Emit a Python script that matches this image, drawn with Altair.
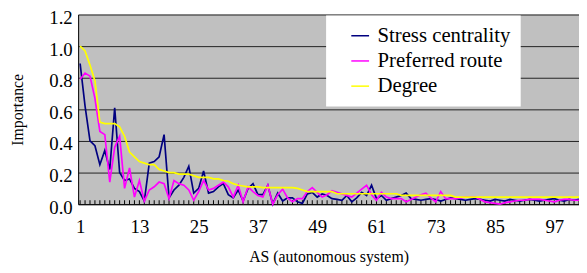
import altair as alt
import pandas as pd

AS = list(range(1, 103))

stress = [0.89, 0.62, 0.40, 0.37, 0.25, 0.34, 0.22, 0.61, 0.20, 0.15,
          0.16, 0.10, 0.08, 0.02, 0.26, 0.27, 0.30, 0.44, 0.04, 0.09,
          0.12, 0.17, 0.24, 0.07, 0.10, 0.21, 0.07, 0.08, 0.11, 0.13,
          0.06, 0.04, 0.09, 0.02, 0.10, 0.13, 0.06, 0.06, 0.12, 0.00,
          0.07, 0.02, 0.04, 0.04, 0.015, 0.005, 0.065, 0.075, 0.045, 0.065,
          0.055, 0.035, 0.03, 0.025, 0.055, 0.015, 0.04, 0.075, 0.055, 0.12,
          0.035, 0.055, 0.025, 0.035, 0.045, 0.055, 0.07, 0.035, 0.03, 0.025,
          0.03, 0.035, 0.03, 0.02, 0.03, 0.04, 0.035, 0.03, 0.025, 0.03,
          0.035, 0.03, 0.025, 0.02, 0.03, 0.025, 0.02, 0.03, 0.025, 0.02,
          0.025, 0.03, 0.025, 0.02, 0.025, 0.03, 0.035, 0.025, 0.02, 0.03,
          0.025, 0.03]

preferred = [0.79, 0.83, 0.81, 0.67, 0.46, 0.44, 0.14, 0.36, 0.43, 0.10,
             0.23, 0.045, 0.15, 0.02, 0.09, 0.11, 0.14, 0.13, 0.035, 0.15,
             0.13, 0.12, 0.09, 0.025, 0.08, 0.15, 0.09, 0.10, 0.12, 0.14,
             0.11, 0.045, 0.12, 0.015, 0.11, 0.08, 0.055, 0.045, 0.12, 0.00,
             0.06, 0.095, 0.04, 0.015, 0.035, 0.035, 0.08, 0.105, 0.075, 0.045,
             0.06, 0.085, 0.075, 0.065, 0.055, 0.045, 0.07, 0.095, 0.12, 0.06,
             0.025, 0.075, 0.045, 0.035, 0.035, 0.035, 0.015, 0.03, 0.045, 0.06,
             0.07, 0.04, 0.015, 0.08, 0.035, 0.035, 0.035, 0.04, 0.045, 0.045,
             0.045, 0.03, 0.015, 0.01, 0.005, 0.0, 0.01, 0.015, 0.02, 0.025,
             0.025, 0.03, 0.03, 0.03, 0.025, 0.02, 0.015, 0.025, 0.03, 0.03,
             0.025, 0.025]

degree = ([1.00, 0.97, 0.88, 0.78, 0.52, 0.51, 0.51, 0.51, 0.49, 0.43,
           0.33, 0.30, 0.27, 0.26, 0.25, 0.25, 0.22, 0.21, 0.20, 0.20,
           0.19, 0.19, 0.19, 0.18, 0.17, 0.17, 0.17, 0.16, 0.16, 0.15,
           0.145, 0.13, 0.12, 0.115, 0.11, 0.11, 0.11, 0.105, 0.105, 0.105,
           0.105, 0.105, 0.105, 0.105, 0.10, 0.09, 0.08]
          + [0.08] * 5 + [0.066] * 13 + [0.056] * 11 + [0.045] * 26)

series_names = ["Stress centrality", "Preferred route", "Degree"]
series_colors = ["#000080", "#FF00FF", "#FFFF00"]
y_ticks = [0.0, 0.2, 0.4, 0.6, 0.8, 1.0, 1.2]
x_labels = [1, 13, 25, 37, 49, 61, 73, 85, 97]

rows = []
for name, vals in zip(series_names, [stress, preferred, degree]):
    for a, v in zip(AS, vals):
        rows.append({"AS": a, "Importance": v, "Series": name})
df = pd.DataFrame(rows)
ticks_df = pd.DataFrame({"AS": AS})

FONT = "Times New Roman, Liberation Serif, DejaVu Serif, serif"

x_enc = alt.X(
    "AS:Q",
    scale=alt.Scale(domain=[0.6, 102], nice=False, zero=False),
    axis=alt.Axis(values=x_labels, title="AS (autonomous system)", ticks=False,
                  tickSize=0, grid=False, labelPadding=14, titlePadding=12,
                  labelFontSize=19, titleFontSize=16),
)
y_scale = alt.Scale(domain=[0, 1.2], nice=False)
y_axis = alt.Axis(values=y_ticks, format=".1f", title="Importance", ticks=False,
                  tickSize=0, grid=True, labelPadding=6, titlePadding=24,
                  labelFontSize=19, titleFontSize=16, labelOffset=3)

color_enc = alt.Color(
    "Series:N",
    scale=alt.Scale(domain=series_names, range=series_colors),
    legend=alt.Legend(orient="none", legendX=251, legendY=1, title=None,
                      fillColor="white", padding=10, symbolOffset=14,
                      symbolType="stroke", symbolSize=324, symbolStrokeWidth=1.5,
                      labelFont=FONT, labelFontSize=21, labelColor="black",
                      rowPadding=3.5, labelOffset=7, labelLimit=300),
)

tick_layer = alt.Chart(ticks_df).mark_rule(color="black", strokeWidth=1).encode(
    x=x_enc,
    y=alt.Y(datum=0, scale=y_scale, axis=y_axis),
    y2=alt.Y2(datum=0.025),
)

layers = [tick_layer]
for name in series_names:
    layers.append(
        alt.Chart(df).transform_filter(alt.datum.Series == name)
        .mark_line(strokeWidth=1.7)
        .encode(
            x=x_enc,
            y=alt.Y("Importance:Q", scale=y_scale, axis=y_axis),
            color=color_enc,
            order="AS:Q",
        )
    )

chart = alt.layer(*layers).properties(
    width=507,
    height=192,
    padding={"left": 71, "top": 5, "right": 0, "bottom": 64},
    autosize=alt.AutoSizeParams(type="none"),
    background="white",
).configure(
    font=FONT
).configure_view(
    fill="#C0C0C0", strokeWidth=0
).configure_axis(
    labelFont=FONT, titleFont=FONT, labelColor="black", titleColor="black",
    titleFontWeight="normal", domainColor="black", domainWidth=1,
    gridColor="#222222", gridWidth=1,
).configure_legend(
    labelFont=FONT
)

chart.save("out.html", embed_options={"renderer": "svg", "actions": False})
